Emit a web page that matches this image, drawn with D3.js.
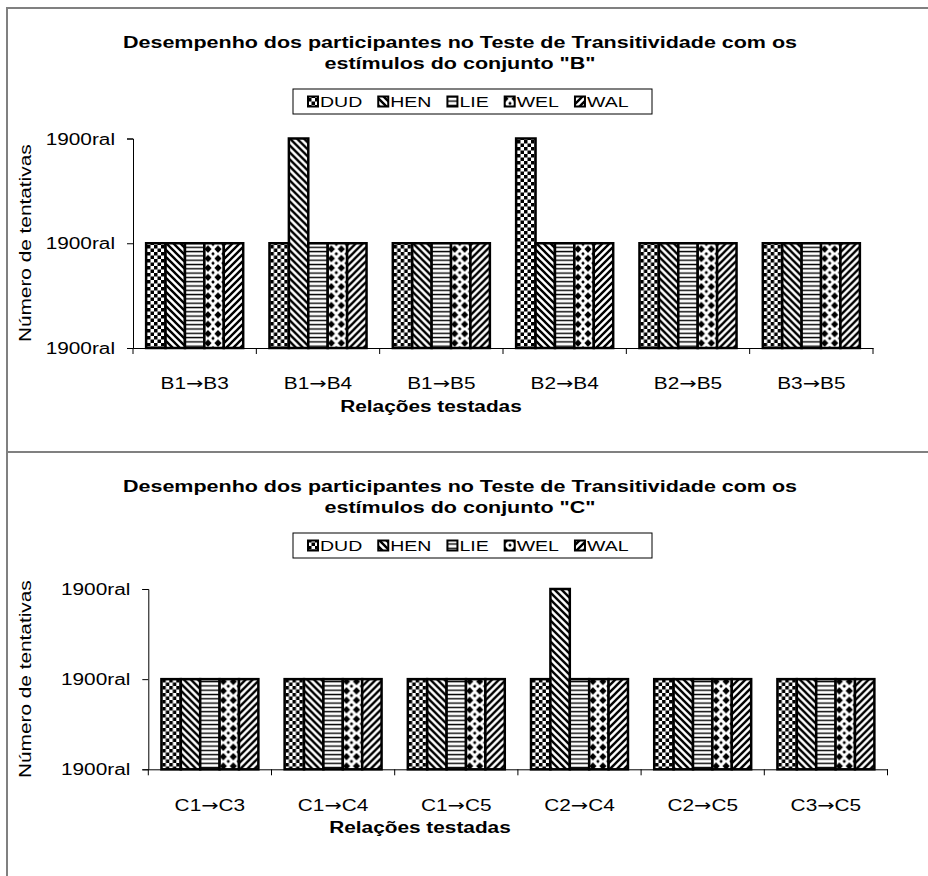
<!DOCTYPE html>
<html>
<head>
<meta charset="utf-8">
<script src="https://cdn.jsdelivr.net/npm/d3@7"></script>
<style>
    body { margin: 0; background: #fff; }
    text { font-family: "Liberation Sans", Arial, sans-serif; fill: #000; }
</style>
</head>
<body>
<script>
// participants (series)
const series = ["DUD", "HEN", "LIE", "WEL", "WAL"];

// conjunto B
const relacoesB = ["B1→B3", "B1→B4", "B1→B5", "B2→B4", "B2→B5", "B3→B5"];
const dudB = [1, 1, 1, 2, 1, 1];
const henB = [1, 2, 1, 1, 1, 1];
const lieB = [1, 1, 1, 1, 1, 1];
const welB = [1, 1, 1, 1, 1, 1];
const walB = [1, 1, 1, 1, 1, 1];

// conjunto C
const relacoesC = ["C1→C3", "C1→C4", "C1→C5", "C2→C4", "C2→C5", "C3→C5"];
const dudC = [1, 1, 1, 1, 1, 1];
const henC = [1, 1, 1, 2, 1, 1];
const lieC = [1, 1, 1, 1, 1, 1];
const welC = [1, 1, 1, 1, 1, 1];
const walC = [1, 1, 1, 1, 1, 1];

// y axis ticks (labels as printed in the original)
const yTicks = [0, 1, 2];
const yTickLabels = ["1900ral", "1900ral", "1900ral"];

const titleB = ["Desempenho dos participantes no Teste de Transitividade com os", "estímulos do conjunto \"B\""];
const titleC = ["Desempenho dos participantes no Teste de Transitividade com os", "estímulos do conjunto \"C\""];
const yTitle = "Número de tentativas";
const xTitle = "Relações testadas";

const W = 928, H = 876;
const K = 1.3; // horizontal stretch of the text, the original is drawn wide

const svg = d3.select("body").append("svg")
    .attr("width", W)
    .attr("height", H);

// patterns
const defs = svg.append("defs");
function pat(id, w, h) {
    const p = defs.append("pattern")
        .attr("id", id)
        .attr("patternUnits", "userSpaceOnUse")
        .attr("width", w)
        .attr("height", h);
    p.append("rect").attr("width", w).attr("height", h).attr("fill", "#fff");
    return p;
}
// DUD - checkerboard
let p = pat("p-DUD", 7, 7);
p.append("rect").attr("width", 3.5).attr("height", 3.5).attr("fill", "#000");
p.append("rect").attr("x", 3.5).attr("y", 3.5).attr("width", 3.5).attr("height", 3.5).attr("fill", "#000");
// HEN - wide downward diagonal
p = pat("p-HEN", 7, 7);
p.append("path").attr("d", "M-2,-2L9,9M-2,5L2,9M5,-2L9,2")
    .attr("stroke", "#000").attr("stroke-width", 2.4);
// LIE - horizontal lines
p = pat("p-LIE", 4, 4.3);
p.append("rect").attr("y", 1.5).attr("width", 4).attr("height", 1.4).attr("fill", "#000");
// WEL - diamonds
p = pat("p-WEL", 10, 9.4);
p.append("path").attr("d", "M5,1L8.6,4.7L5,8.4L1.4,4.7Z").attr("fill", "#000");
p.append("path").attr("d", "M0,-1.8L1.8,0L0,1.8L-1.8,0ZM10,-1.8L11.8,0L10,1.8L8.2,0ZM0,7.6L1.8,9.4L0,11.2L-1.8,9.4ZM10,7.6L11.8,9.4L10,11.2L8.2,9.4Z").attr("fill", "#000");
// WAL - wide upward diagonal
p = pat("p-WAL", 7, 7);
p.append("path").attr("d", "M-2,9L9,-2M-2,2L2,-2M5,9L9,5")
    .attr("stroke", "#000").attr("stroke-width", 2.4);

function stretch(sel, k) {
    sel.each(function () {
        const w = this.getComputedTextLength();
        d3.select(this).attr("textLength", w * k).attr("lengthAdjust", "spacingAndGlyphs");
    });
}

// frame
svg.append("path")
    .attr("d", `M7,${H}V8H${W}M7,452H${W}`)
    .attr("fill", "none")
    .attr("stroke", "#808080")
    .attr("stroke-width", 2);

function drawPanel(cfg) {
    const g = svg.append("g");
    const values = { DUD: cfg.dud, HEN: cfg.hen, LIE: cfg.lie, WEL: cfg.wel, WAL: cfg.wal };

    const x0 = d3.scaleBand().domain(cfg.cats).range([cfg.left, cfg.right]).padding(0);
    const gap = x0.bandwidth() * (1 - 0.787) / 2;
    const x1 = d3.scaleBand().domain(series).range([gap, x0.bandwidth() - gap]).padding(0);
    const y = d3.scaleLinear().domain([0, 2]).range([cfg.bottom, cfg.top]);

    // title, first line stretched to the width of the original
    const tt = g.selectAll(".title").data(cfg.title).join("text")
        .attr("x", 460)
        .attr("y", (d, i) => cfg.off + 48 + i * 21)
        .attr("text-anchor", "middle")
        .style("font-size", "16px")
        .style("font-weight", "bold")
        .text(d => d);
    const kt = 674 / tt.node().getComputedTextLength();
    tt.call(stretch, kt);

    // legend
    const lg = g.append("g");
    lg.append("rect")
        .attr("x", 293).attr("y", cfg.off + 89)
        .attr("width", 359).attr("height", 25)
        .attr("fill", "#fff").attr("stroke", "#000").attr("stroke-width", 1);
    let lx = 308;
    series.forEach((s) => {
        lg.append("rect")
            .attr("x", lx).attr("y", cfg.off + 96.5)
            .attr("width", 10).attr("height", 10)
            .attr("fill", `url(#p-${s})`)
            .attr("stroke", "#000").attr("stroke-width", 2);
        const t = lg.append("text")
            .attr("x", lx + 12).attr("y", cfg.off + 107)
            .style("font-size", "15px")
            .text(s)
            .call(stretch, K);
        lx += 12 + +t.attr("textLength") + 16;
    });

    // y axis
    const ya = g.append("g")
        .attr("transform", `translate(${cfg.left},0)`)
        .call(d3.axisLeft(y).tickValues(yTicks).tickFormat((d, i) => yTickLabels[i]).tickSize(6).tickPadding(12));
    ya.select(".domain").attr("stroke", "#000");
    ya.selectAll("text").style("font-size", "16px").attr("dy", "0.35em").call(stretch, K);

    // bars
    const groups = g.selectAll(".grp").data(cfg.cats).join("g")
        .attr("transform", d => `translate(${x0(d)},0)`);
    groups.selectAll("rect")
        .data((c, i) => series.map(s => ({ s: s, v: values[s][i] })))
        .join("rect")
        .attr("x", d => x1(d.s))
        .attr("y", d => y(d.v))
        .attr("width", x1.bandwidth())
        .attr("height", d => y(0) - y(d.v))
        .attr("fill", d => `url(#p-${d.s})`)
        .attr("stroke", "#000")
        .attr("stroke-width", 2.5);

    // x axis
    const xa = g.append("g")
        .attr("transform", `translate(0,${cfg.bottom})`)
        .call(d3.axisBottom(x0).tickSize(0).tickPadding(30));
    xa.select(".domain").attr("stroke", "#000");
    xa.selectAll(".tick text").each(function (d) {
        const t = d3.select(this).text(null);
        const parts = d.split("→");
        t.append("tspan").text(parts[0]);
        t.append("tspan").style("font-family", "'DejaVu Sans'").text("→");
        t.append("tspan").text(parts[1]);
    });
    xa.selectAll(".tick text").style("font-size", "16px").call(stretch, K);
    // category separators
    const bounds = cfg.cats.map(c => x0(c)).concat([cfg.right]);
    xa.selectAll(".sep").data(bounds).join("line")
        .attr("x1", d => d).attr("x2", d => d)
        .attr("y1", 0).attr("y2", 6)
        .attr("stroke", "#000");

    g.append("text")
        .attr("x", cfg.xTitleX)
        .attr("y", cfg.bottom + 64)
        .attr("text-anchor", "middle")
        .style("font-size", "16px")
        .style("font-weight", "bold")
        .text(xTitle)
        .call(stretch, K);

    g.append("text")
        .attr("transform", `translate(31,${(cfg.top + cfg.bottom) / 2}) rotate(-90)`)
        .attr("text-anchor", "middle")
        .style("font-size", "16px")
        .text(yTitle)
        .call(stretch, K);
}

drawPanel({
    off: 0, title: titleB, cats: relacoesB,
    dud: dudB, hen: henB, lie: lieB, wel: welB, wal: walB,
    left: 133, right: 873, top: 138.5, bottom: 348, xTitleX: 431
});
drawPanel({
    off: 444, title: titleC, cats: relacoesC,
    dud: dudC, hen: henC, lie: lieC, wel: welC, wal: walC,
    left: 148.3, right: 887.5, top: 589, bottom: 769.3, xTitleX: 420
});
</script>
</body>
</html>
